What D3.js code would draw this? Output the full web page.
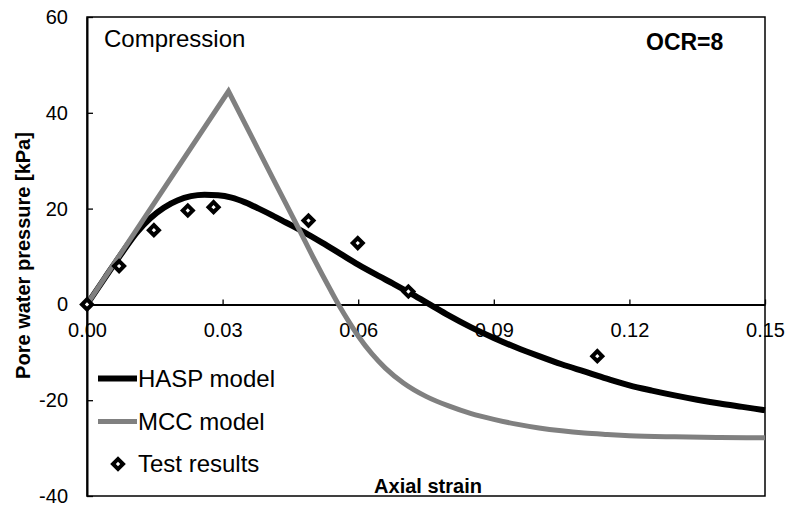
<!DOCTYPE html>
<html>
<head>
<meta charset="utf-8">
<script src="https://cdn.jsdelivr.net/npm/d3@7"></script>
<style>
  html, body { margin: 0; padding: 0; background: #fff; }
  svg { display: block; font-family: "Liberation Sans", Arial, sans-serif; }
</style>
</head>
<body>
<svg id="chart" width="787" height="508"></svg>
<script>
// ---- data ----
const xTicks = [0, 0.03, 0.06, 0.09, 0.12, 0.15];
const yTicks = [-40, -20, 0, 20, 40, 60];

const haspStrain = [0, 0.004, 0.008, 0.011, 0.014, 0.017, 0.020, 0.023, 0.026, 0.029, 0.032, 0.035, 0.038, 0.041, 0.044, 0.048, 0.052, 0.056, 0.060, 0.064, 0.068, 0.072, 0.076, 0.080, 0.085, 0.090, 0.095, 0.100, 0.105, 0.110, 0.115, 0.120, 0.125, 0.130, 0.135, 0.140, 0.145, 0.150];
const haspPwp = [0, 5.6, 11.1, 15.0, 18.0, 20.2, 21.7, 22.6, 22.9, 22.8, 22.3, 21.3, 20.0, 18.6, 17.1, 15.1, 12.9, 10.6, 8.3, 6.2, 4.2, 2.1, -0.1, -2.3, -4.8, -7.0, -9.0, -10.8, -12.5, -14.0, -15.5, -16.9, -18.0, -19.0, -19.9, -20.7, -21.4, -22.1];

const mccStrain = [0, 0.0313, 0.036, 0.042, 0.047, 0.050, 0.052, 0.054, 0.056, 0.058, 0.060, 0.063, 0.066, 0.070, 0.075, 0.080, 0.085, 0.090, 0.095, 0.100, 0.105, 0.110, 0.115, 0.120, 0.130, 0.140, 0.150];
const mccPwp = [0, 44.5, 35.8, 24.7, 15.5, 9.9, 6.3, 2.8, -0.6, -3.7, -6.6, -10.3, -13.3, -16.4, -19.2, -21.2, -22.8, -24.0, -25.0, -25.8, -26.4, -26.85, -27.15, -27.4, -27.65, -27.8, -27.85];
const mccPeakIndex = 1;

const testStrain = [0, 0.0071, 0.0148, 0.0223, 0.0280, 0.0490, 0.0599, 0.0711, 0.1129];
const testPwp = [0, 8.0, 15.5, 19.6, 20.3, 17.5, 12.8, 2.7, -10.8];

const legendLabels = ["HASP model", "MCC model", "Test results"];
const xTitle = "Axial strain";
const yTitle = "Pore water pressure [kPa]";
const noteLeft = "Compression";
const noteRight = "OCR=8";

// ---- layout ----
const svg = d3.select("#chart");
const L = 87, R = 765, T = 17, B = 496;
const x = d3.scaleLinear().domain([0, 0.15]).range([L, R]);
const y = d3.scaleLinear().domain([-40, 60]).range([B, T]);
const font = '"Liberation Sans", Arial, sans-serif';

// frame
svg.append("rect").attr("x", L).attr("y", T).attr("width", R - L).attr("height", B - T)
  .attr("fill", "none").attr("stroke", "#000").attr("stroke-width", 1.5);

// y axis
const yAxis = svg.append("g").attr("transform", `translate(${L},0)`)
  .call(d3.axisLeft(y).tickValues(yTicks).tickFormat(d => String(d)).tickSizeInner(-6).tickSizeOuter(0).tickPadding(19));
yAxis.select(".domain").attr("stroke", "#000").attr("stroke-width", 2);
yAxis.selectAll(".tick line").attr("stroke", "#000").attr("stroke-width", 1.3);
yAxis.selectAll(".tick text").attr("font-family", font).attr("font-size", 20).attr("fill", "#000");

// x axis at y=0
const xAxis = svg.append("g").attr("transform", `translate(0,${y(0)})`)
  .call(d3.axisBottom(x).tickValues(xTicks).tickFormat(d => d.toFixed(2)).tickSizeInner(-5).tickSizeOuter(0).tickPadding(18.5));
xAxis.select(".domain").attr("stroke", "#000").attr("stroke-width", 2);
xAxis.selectAll(".tick line").attr("stroke", "#000").attr("stroke-width", 1.3);
xAxis.selectAll(".tick text").attr("font-family", font).attr("font-size", 20).attr("fill", "#000");

// curves
const hasp = haspStrain.map((s, i) => [s, haspPwp[i]]);
const mcc = mccStrain.map((s, i) => [s, mccPwp[i]]);
const test = testStrain.map((s, i) => [s, testPwp[i]]);

const lineLin = d3.line().x(d => x(d[0])).y(d => y(d[1]));
const lineMono = d3.line().x(d => x(d[0])).y(d => y(d[1])).curve(d3.curveMonotoneX);

svg.append("path").attr("d", lineMono(hasp))
  .attr("fill", "none").attr("stroke", "#000").attr("stroke-width", 6).attr("stroke-linejoin", "round");

svg.append("path").attr("d", lineLin(mcc.slice(0, mccPeakIndex + 1)) + "L" + lineMono(mcc.slice(mccPeakIndex)).slice(1))
  .attr("fill", "none").attr("stroke", "#808080").attr("stroke-width", 5).attr("stroke-linejoin", "miter");

// test points
const diamond = d3.symbol(d3.symbolSquare, 50);
svg.append("g").selectAll("path").data(test).join("path")
  .attr("d", diamond)
  .attr("transform", d => `translate(${x(d[0])},${y(d[1])}) rotate(45)`)
  .attr("fill", "#fff").attr("stroke", "#000").attr("stroke-width", 4);

// notes
svg.append("text").attr("x", 104).attr("y", 47).attr("font-family", font).attr("font-size", 24).text(noteLeft);
svg.append("text").attr("x", 646).attr("y", 49.5).attr("font-family", font).attr("font-size", 23).attr("font-weight", "bold").text(noteRight);

// axis titles
svg.append("text").attr("x", (L + R) / 2 + 2).attr("y", 493).attr("text-anchor", "middle")
  .attr("font-family", font).attr("font-size", 20).attr("font-weight", "bold").text(xTitle);
svg.append("text").attr("transform", "translate(30,255.5) rotate(-90)").attr("text-anchor", "middle")
  .attr("font-family", font).attr("font-size", 20).attr("font-weight", "bold").text(yTitle);

// legend
const lg = svg.append("g");
lg.append("line").attr("x1", 98).attr("x2", 137).attr("y1", 378.5).attr("y2", 378.5).attr("stroke", "#000").attr("stroke-width", 6);
lg.append("text").attr("x", 138).attr("y", 387).attr("font-family", font).attr("font-size", 24).text(legendLabels[0]);
lg.append("line").attr("x1", 98).attr("x2", 137).attr("y1", 421.5).attr("y2", 421.5).attr("stroke", "#808080").attr("stroke-width", 5);
lg.append("text").attr("x", 138).attr("y", 430).attr("font-family", font).attr("font-size", 24).text(legendLabels[1]);
lg.append("path").attr("d", diamond).attr("transform", "translate(118,464) rotate(45)")
  .attr("fill", "#fff").attr("stroke", "#000").attr("stroke-width", 4);
lg.append("text").attr("x", 138).attr("y", 472).attr("font-family", font).attr("font-size", 24).text(legendLabels[2]);
</script>
</body>
</html>
